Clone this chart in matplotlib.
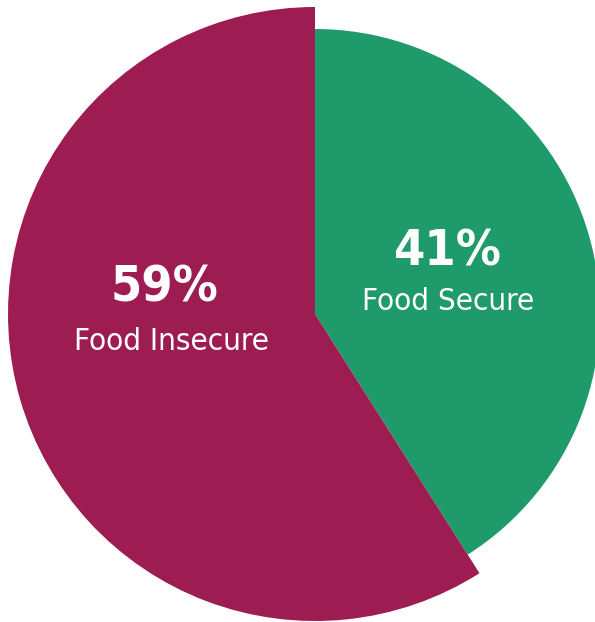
import matplotlib
matplotlib.use("Agg")
import matplotlib.pyplot as plt

# data
labels = ["Food Secure", "Food Insecure"]
shares = [41, 59]
colors = ["#1f9a6b", "#9d1c52"]

W, H = 595, 622
fig = plt.figure(figsize=(W / 100, H / 100), dpi=100)
ax = fig.add_axes([0, 0, 1, 1])

cx, cy = 315, H - 314
wedges, _ = ax.pie(shares, colors=colors, startangle=90, counterclock=False,
                   radius=307, center=(cx, cy),
                   wedgeprops=dict(edgecolor="none"))
# the secure slice sits a bit smaller than the insecure one
wedges[0].set_radius(285)

ax.set_xlim(0, W)
ax.set_ylim(0, H)
ax.set_aspect("equal")
ax.axis("off")

kw = dict(color="white", ha="center", va="center", family=["DejaVu Sans"],
          fontstretch="condensed")
ax.text(448, H - 252, f"{shares[0]}%", fontsize=36, fontweight="bold", **kw)
ax.text(448, H - 301, labels[0], fontsize=22.5, **kw)
ax.text(164, H - 287, f"{shares[1]}%", fontsize=36, fontweight="bold", **kw)
ax.text(171, H - 342, labels[1], fontsize=22.5, **kw)

fig.savefig("out.png", dpi=100)
